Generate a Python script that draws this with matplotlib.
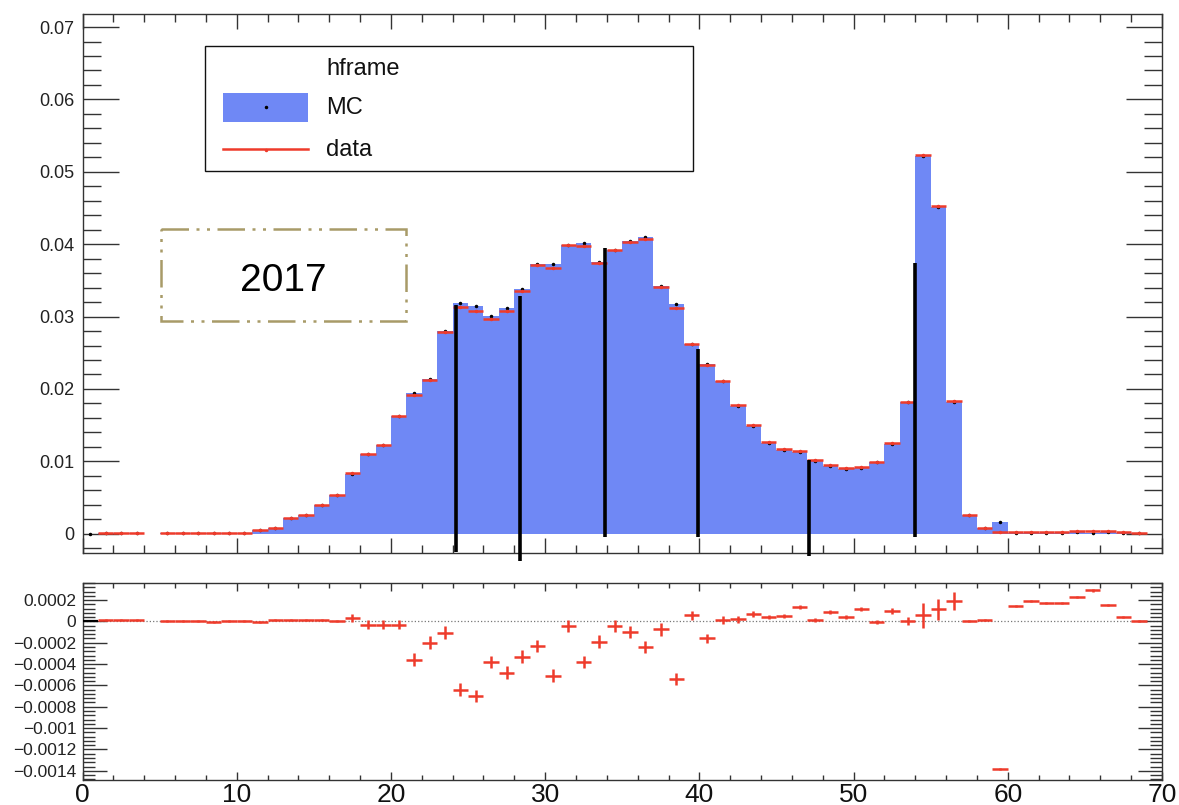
import numpy as np
import matplotlib
matplotlib.use('Agg')
import matplotlib.pyplot as plt
from matplotlib.patches import Rectangle
from matplotlib.ticker import MultipleLocator, FuncFormatter

plt.rcParams['font.family'] = ['Liberation Sans', 'DejaVu Sans']

#--- binning : 69 bins of width 1 from 0
edges = np.arange(0, 70)
centers = edges[:-1] + 0.5

#--- MC (normalised)
mc = [0.0, 0.00005, 0.00005, 0.00005, 0.0, 0.00005, 0.00005, 0.00005, 0.00015, 0.00005,
      0.00005, 0.0005, 0.0008, 0.0022, 0.0026, 0.0040, 0.0054, 0.0083, 0.0110, 0.0123,
      0.0163, 0.0195, 0.0214, 0.0280, 0.0319, 0.0315, 0.0301, 0.0312, 0.0338, 0.0373,
      0.0372, 0.0399, 0.0401, 0.0376, 0.0392, 0.0404, 0.0410, 0.0342, 0.0317, 0.0262,
      0.0235, 0.0211, 0.0177, 0.0149, 0.0126, 0.0116, 0.0113, 0.0101, 0.0094, 0.0090,
      0.0091, 0.0099, 0.0124, 0.0182, 0.0522, 0.0452, 0.0182, 0.0026, 0.0008, 0.0016,
      0.00016, 0.00011, 0.00013, 0.00013, 0.00017, 0.00011, 0.00024, 0.00016, 0.0001]

#--- data - MC
diff = [0.0, 0.00001, 0.00001, 0.00001, np.nan, 0.000005, 0.000005, 0.000005, -0.000006, 0.000006,
        0.000006, -0.000006, 0.000016, 0.000016, 0.000016, 0.000016, 0.000002, 0.00003, -0.00003, -0.00003,
        -0.00003, -0.00036, -0.0002, -0.000106, -0.00064, -0.0007, -0.00038, -0.00048, -0.00033, -0.00023,
        -0.00051, -0.000044, -0.00038, -0.00019, -0.000044, -0.0001, -0.00024, -0.000075, -0.00054, 0.000056,
        -0.00016, 0.0000125, 0.000019, 0.000072, 0.000044, 0.000053, 0.000135, 0.000016, 0.00009, 0.000038,
        0.000113, -0.000006, 0.0001, 0.000003, 0.000056, 0.000113, 0.000194, 0.000003, 0.0000125, -0.00138,
        0.000144, 0.000188, 0.00017, 0.000175, 0.00023, 0.00029, 0.000156, 0.000038, 0.000006]

diff_err = ([0.000008] * 17 + [0.00004] * 4 + [0.00006] * 18 +
            [0.00004, 0.00004, 0.00004, 0.00003, 0.00003, 0.00002, 0.00002, 0.00002,
             0.00002, 0.00002, 0.00002, 0.00002, 0.00002, 0.00003, 0.00004] +
            [0.000115, 0.0001, 0.000085] + [0.00001] * 12)

#--- black markers drawn over the frame
mark_x = [24.19, 28.35, 33.86, 39.93, 47.12, 53.98]
mark_top = [0.0316, 0.0328, 0.0395, 0.0255, 0.0102, 0.0374]
mark_bottom = [-0.0025, -0.0038, -0.0005, -0.0005, -0.0031, -0.0005]

mc = np.array(mc)
diff = np.array(diff)
diff_err = np.array(diff_err)
data = mc + diff
filled = ~np.isnan(data)

blue = '#6f88f5'
red = '#ee3b2b'
tick_col = '#333333'

fig = plt.figure(figsize=(11.79, 8.05), dpi=100)
ax1 = fig.add_axes([0.070, 0.3130, 0.9156, 0.6696])
ax2 = fig.add_axes([0.070, 0.0311, 0.9156, 0.2447])

#--- upper pad
ax1.stairs(mc, edges, baseline=0, fill=True, facecolor=blue, edgecolor=blue, lw=0)
ax1.plot(centers[filled], mc[filled], 'k.', ms=3, zorder=3)
ax1.errorbar(centers[1:], data[1:], xerr=0.5, yerr=diff_err[1:], fmt='.', ms=3,
             color=red, ecolor=red, elinewidth=1.8, capsize=0, zorder=4)
ax1.vlines(mark_x, mark_bottom, mark_top, colors='k', lw=2.6, clip_on=False, zorder=6)

ax1.set_xlim(0, 70)
ax1.set_ylim(-0.00267, 0.0718)
ax1.xaxis.set_major_locator(MultipleLocator(10))
ax1.xaxis.set_minor_locator(MultipleLocator(2))
ax1.yaxis.set_major_locator(MultipleLocator(0.01))
ax1.yaxis.set_minor_locator(MultipleLocator(0.002))
ax1.tick_params(axis='both', which='both', direction='in', top=True, right=True, color=tick_col)
ax1.tick_params(axis='x', which='major', length=11, width=1)
ax1.tick_params(axis='x', which='minor', length=5.5, width=1)
ax1.tick_params(axis='y', which='major', length=26, width=1)
ax1.tick_params(axis='y', which='minor', length=13, width=1)
ax1.tick_params(axis='x', labelbottom=False)
ax1.tick_params(axis='y', labelsize=13, pad=6, labelcolor='#222222')
ax1.yaxis.set_major_formatter(FuncFormatter(lambda v, p: '%g' % round(v, 4)))

#--- lower pad
ax2.axhline(0, color='#777777', ls=':', lw=0.9, zorder=1)
ax2.hlines(diff[0], edges[0], edges[1], colors='k', lw=1.6, zorder=3)
ax2.errorbar(centers[1:], diff[1:], xerr=0.5, yerr=diff_err[1:], fmt='none',
             ecolor=red, elinewidth=1.8, capsize=0, zorder=3)
ax2.set_xlim(0, 70)
ax2.set_ylim(-0.001486, 0.00036)
ax2.xaxis.set_major_locator(MultipleLocator(10))
ax2.xaxis.set_minor_locator(MultipleLocator(2))
ax2.yaxis.set_major_locator(MultipleLocator(0.0002))
ax2.yaxis.set_minor_locator(MultipleLocator(0.00004))
ax2.tick_params(axis='both', which='both', direction='in', top=True, right=True, color=tick_col)
ax2.tick_params(axis='x', which='major', length=6, width=1)
ax2.tick_params(axis='x', which='minor', length=3.5, width=1)
ax2.tick_params(axis='y', which='major', length=17, width=1)
ax2.tick_params(axis='y', which='minor', length=8.5, width=1)
ax2.tick_params(axis='y', labelsize=12.5, pad=4.5, labelcolor='#222222')
ax2.tick_params(axis='x', labelsize=19, pad=2, labelcolor='#111111')
ax2.yaxis.set_major_formatter(
    FuncFormatter(lambda v, p: ('%g' % round(v, 5)).replace('-', '\u2212')))

for ax in (ax1, ax2):
    for sp in ax.spines.values():
        sp.set_linewidth(1.0)
        sp.set_color(tick_col)

#--- legend and year label, placed in pixel units on a bare overlay
ov = fig.add_axes([0, 0, 1, 1], facecolor='none')
ov.set_xlim(0, 1179)
ov.set_ylim(805, 0)
ov.axis('off')

ov.add_patch(Rectangle((205, 46), 488, 125, facecolor='white', edgecolor='#111111', lw=1.0))
ov.add_patch(Rectangle((223, 93), 85, 29, facecolor=blue, edgecolor='none'))
ov.plot([265.5], [107.5], 'k.', ms=3)
ov.plot([223, 308], [149, 149], color=red, lw=1.8)
ov.plot([265.5], [150], '.', color=red, ms=3)
ov.text(326, 69, 'hframe', ha='left', va='center', fontsize=17, color='#111111')
ov.text(326, 108, 'MC', ha='left', va='center', fontsize=17, color='#111111')
ov.text(326, 150, 'data', ha='left', va='center', fontsize=17, color='#111111')

ov.add_patch(Rectangle((161, 229), 245, 92, fill=False, edgecolor='#a89b68', lw=1.8,
                       linestyle=(0, (11, 3, 1.2, 3, 1.2, 3))))
ov.text(283, 281, '2017', ha='center', va='center', fontsize=28, color='black')

fig.savefig('out.png', dpi=100)
